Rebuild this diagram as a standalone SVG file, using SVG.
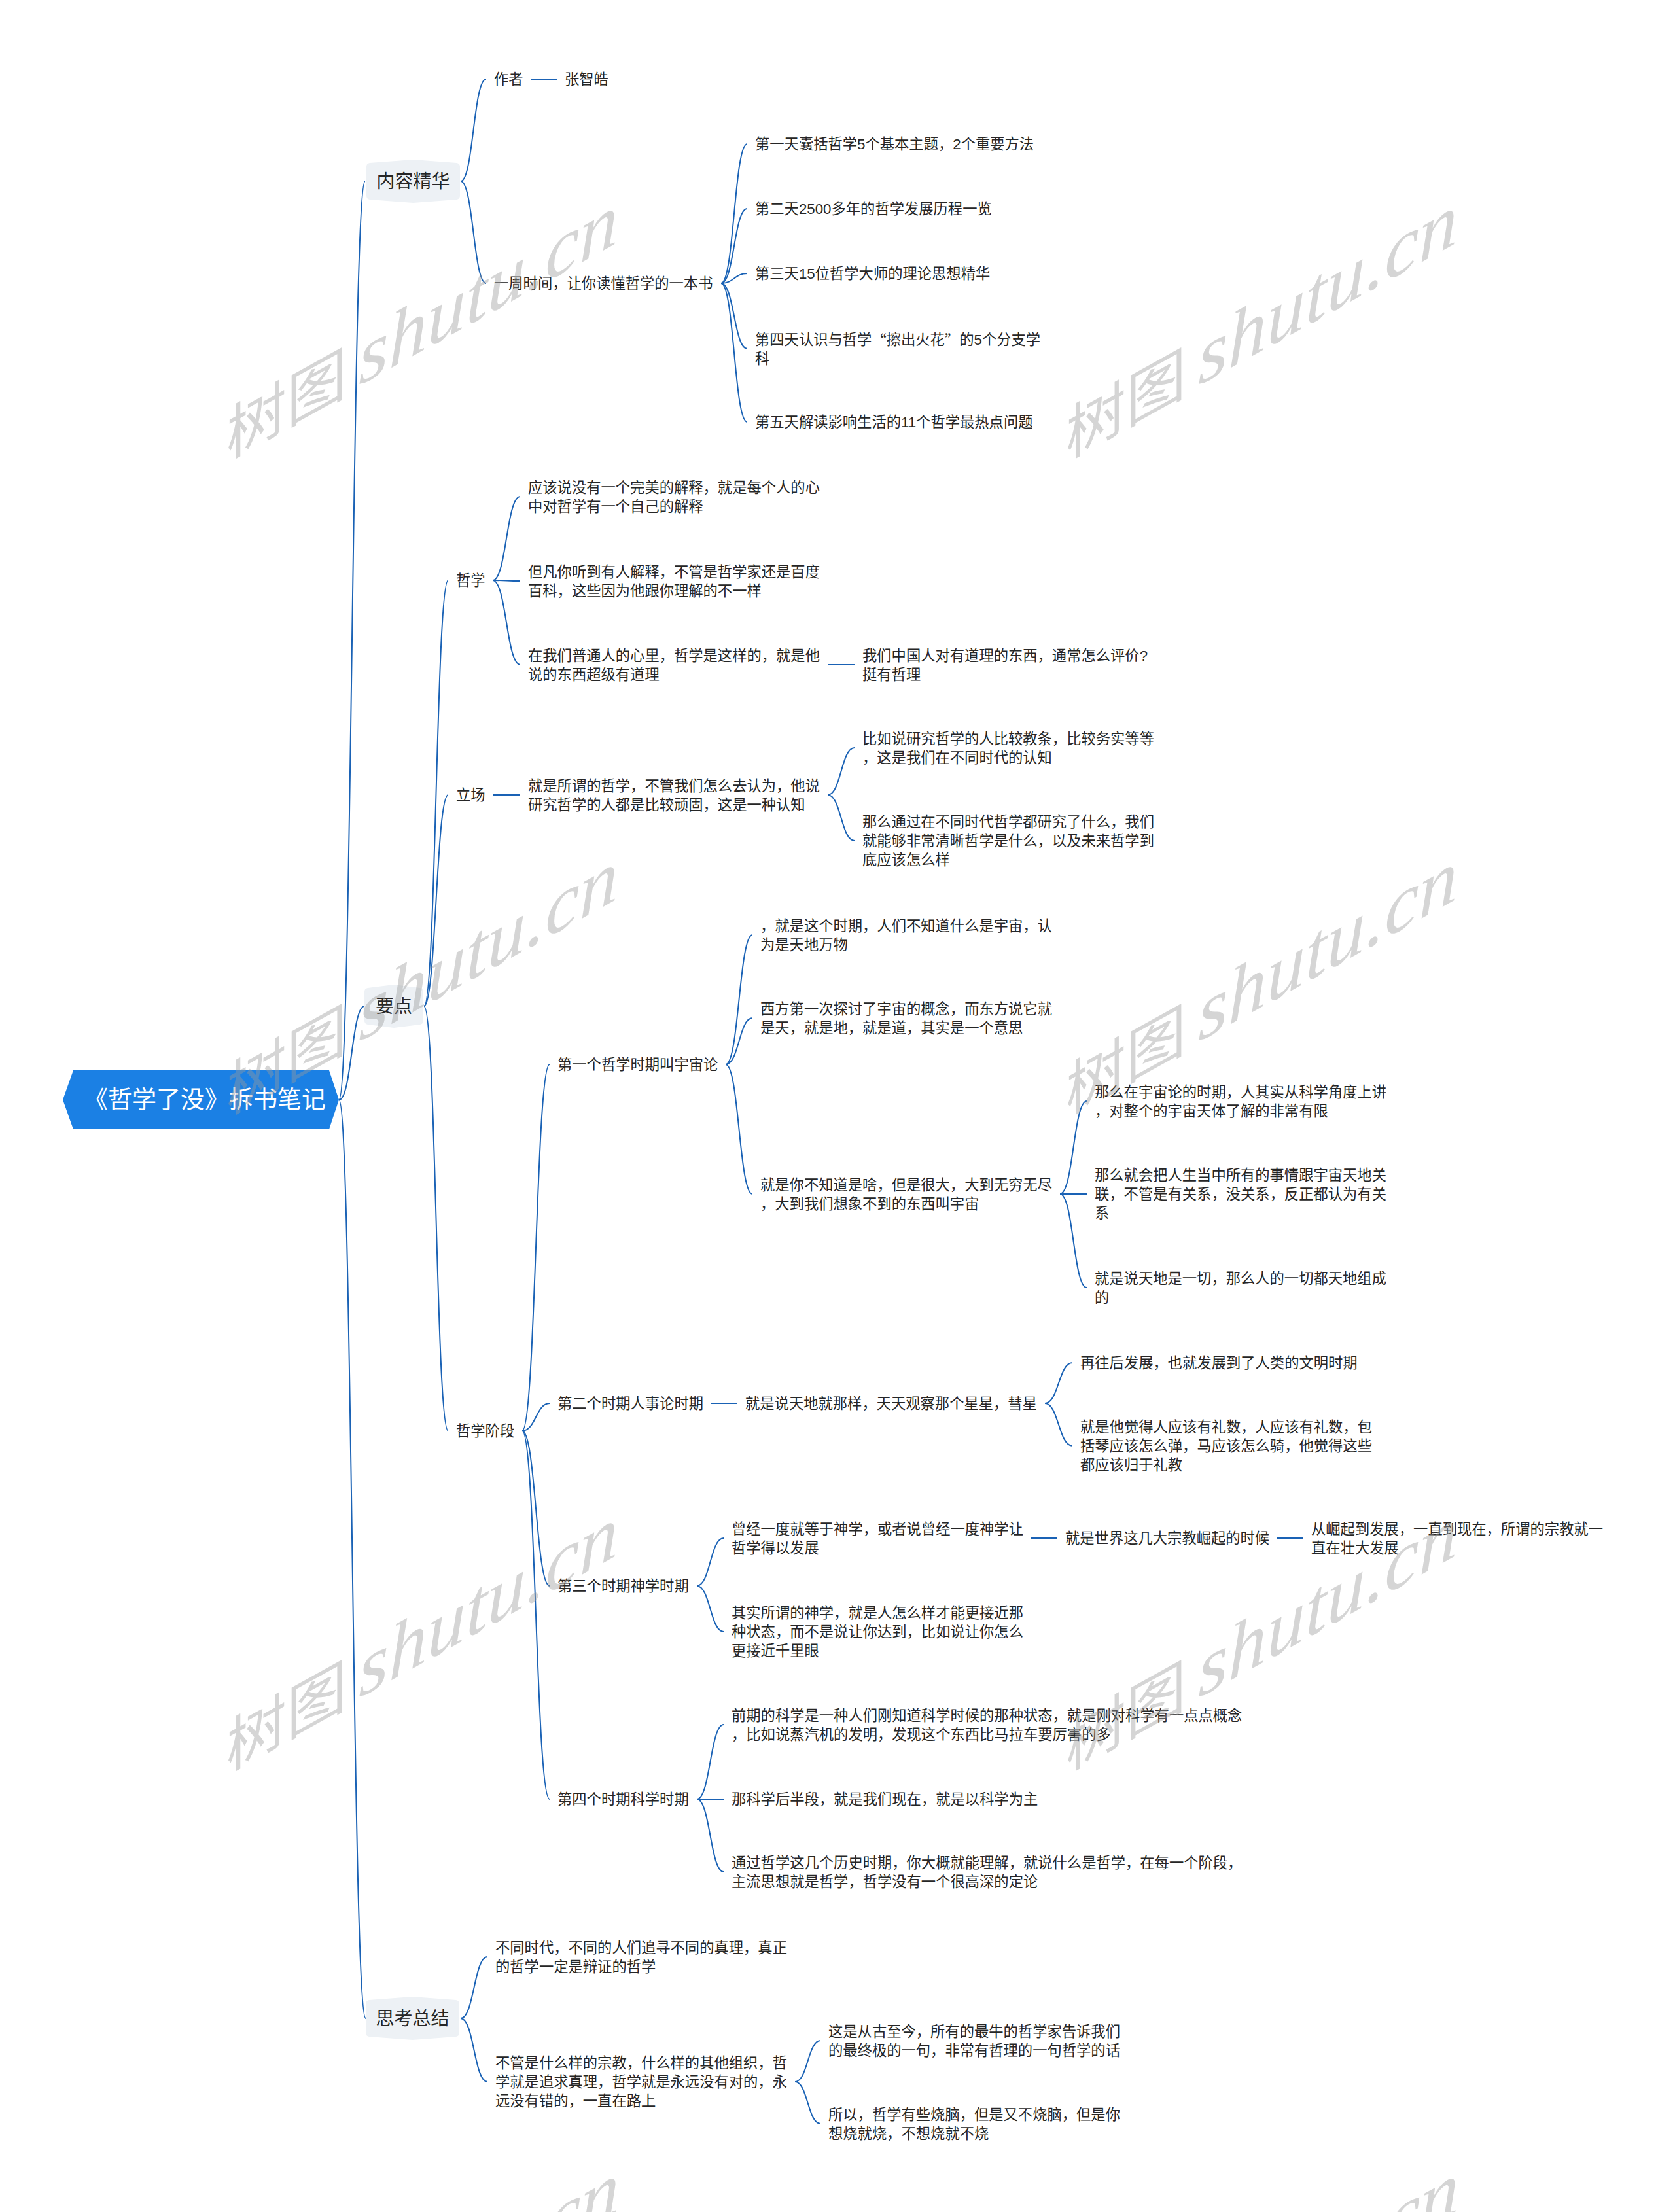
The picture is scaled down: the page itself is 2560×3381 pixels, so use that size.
<svg xmlns="http://www.w3.org/2000/svg" width="2560" height="3381" viewBox="0 0 2560 3381">
<style>
.t{font-family:"Liberation Sans","Noto Sans CJK SC",sans-serif;font-size:22.3px;fill:#262626;dominant-baseline:central}
.q{font-family:"Noto Sans CJK SC",sans-serif}
.l2{font-family:"Liberation Sans","Noto Sans CJK SC",sans-serif;font-size:28px;fill:#262626;dominant-baseline:central;text-anchor:middle}
.root{font-family:"Liberation Sans","Noto Sans CJK SC",sans-serif;font-size:37px;fill:#ffffff;dominant-baseline:central;text-anchor:middle}
.hex{fill:#edf1f5}
.c{fill:none;stroke:#1a62b5;stroke-width:2}
.wm{fill:#9a9a9a;fill-opacity:0.42}
.wm1{font-family:"Noto Sans CJK SC",sans-serif;font-size:92px}
.wm2{font-family:"Liberation Serif",serif;font-style:italic;font-size:118px}
</style>
<rect width="2560" height="3381" fill="#ffffff"/>
<g id="connectors">
<path class="c" d="M518 1681 C538 1681 538 277 558 277"/>
<path class="c" d="M518 1681 C537.5 1681 537.5 1538 557 1538"/>
<path class="c" d="M518 1681 C538.5 1681 538.5 3085 559 3085"/>
<path class="c" d="M704 277 C723.5 277 723.5 121 743 121"/>
<path class="c" d="M704 277 C723.5 277 723.5 433 743 433"/>
<path class="c" d="M811 121 H851"/>
<path class="c" d="M1102 433 C1122 433 1122 220 1142 220"/>
<path class="c" d="M1102 433 C1122 433 1122 319 1142 319"/>
<path class="c" d="M1102 433 C1122 433 1122 418 1142 418"/>
<path class="c" d="M1102 433 C1122 433 1122 533 1142 533"/>
<path class="c" d="M1102 433 C1122 433 1122 645 1142 645"/>
<path class="c" d="M648 1538 C666.5 1538 666.5 887 685 887"/>
<path class="c" d="M648 1538 C666.5 1538 666.5 1215 685 1215"/>
<path class="c" d="M648 1538 C666.5 1538 666.5 2187 685 2187"/>
<path class="c" d="M753 887 C774 887 774 759 795 759"/>
<path class="c" d="M753 887 C774 887 774 888 795 888"/>
<path class="c" d="M753 887 C774 887 774 1016 795 1016"/>
<path class="c" d="M1265 1016 H1306"/>
<path class="c" d="M753 1215 H795"/>
<path class="c" d="M1265 1215 C1285.5 1215 1285.5 1143 1306 1143"/>
<path class="c" d="M1265 1215 C1285.5 1215 1285.5 1285 1306 1285"/>
<path class="c" d="M798 2187 C819 2187 819 1627 840 1627"/>
<path class="c" d="M798 2187 C819 2187 819 2145 840 2145"/>
<path class="c" d="M798 2187 C819 2187 819 2424 840 2424"/>
<path class="c" d="M798 2187 C819 2187 819 2750 840 2750"/>
<path class="c" d="M1109 1627 C1129.5 1627 1129.5 1429 1150 1429"/>
<path class="c" d="M1109 1627 C1129.5 1627 1129.5 1556 1150 1556"/>
<path class="c" d="M1109 1627 C1129.5 1627 1129.5 1825 1150 1825"/>
<path class="c" d="M1620 1825 C1640.5 1825 1640.5 1683 1661 1683"/>
<path class="c" d="M1620 1825 H1661"/>
<path class="c" d="M1620 1825 C1640.5 1825 1640.5 1968 1661 1968"/>
<path class="c" d="M1087 2145 H1127"/>
<path class="c" d="M1597 2145 C1618 2145 1618 2083 1639 2083"/>
<path class="c" d="M1597 2145 C1618 2145 1618 2210 1639 2210"/>
<path class="c" d="M1065 2424 C1085.5 2424 1085.5 2351 1106 2351"/>
<path class="c" d="M1065 2424 C1085.5 2424 1085.5 2494 1106 2494"/>
<path class="c" d="M1576 2351 H1616"/>
<path class="c" d="M1952 2351 H1992"/>
<path class="c" d="M1065 2750 C1085.5 2750 1085.5 2636 1106 2636"/>
<path class="c" d="M1065 2750 H1106"/>
<path class="c" d="M1065 2750 C1085.5 2750 1085.5 2861 1106 2861"/>
<path class="c" d="M704 3085 C724.5 3085 724.5 2991 745 2991"/>
<path class="c" d="M704 3085 C724.5 3085 724.5 3182 745 3182"/>
<path class="c" d="M1215 3182 C1234.5 3182 1234.5 3119 1254 3119"/>
<path class="c" d="M1215 3182 C1234.5 3182 1234.5 3246 1254 3246"/>
</g>
<g id="n-root"><polygon points="96,1681 112,1636 503,1636 518,1681 503,1726 112,1726" fill="#1b80e4"/><text class="root" x="313" y="1681">《哲学了没》拆书笔记</text></g>
<g id="n-nrjh"><path class="hex" d="M560 255 Q560 250 565 249 L631.5 244 L698 249 Q703 250 703 255 L703 299 Q703 304 698 305 L631.5 310 L565 305 Q560 304 560 299 Z"/><text class="l2" x="631.5" y="277">内容精华</text></g>
<g id="n-yd"><path class="hex" d="M557 1516 Q557 1511 562 1510 L602 1505 L642 1510 Q647 1511 647 1516 L647 1560 Q647 1565 642 1566 L602 1571 L562 1566 Q557 1565 557 1560 Z"/><text class="l2" x="602" y="1538">要点</text></g>
<g id="n-sk"><path class="hex" d="M559 3063 Q559 3058 564 3057 L630.5 3052 L697 3057 Q702 3058 702 3063 L702 3107 Q702 3112 697 3113 L630.5 3118 L564 3113 Q559 3112 559 3107 Z"/><text class="l2" x="630.5" y="3085">思考总结</text></g>
<g id="n-zz"><text class="t" x="755" y="121">作者</text></g>
<g id="n-zzh"><text class="t" x="863" y="121">张智皓</text></g>
<g id="n-yz"><text class="t" x="755" y="433">一周时间，让你读懂哲学的一本书</text></g>
<g id="n-d1"><text class="t" x="1154" y="220">第一天囊括哲学5个基本主题，2个重要方法</text></g>
<g id="n-d2"><text class="t" x="1154" y="319">第二天2500多年的哲学发展历程一览</text></g>
<g id="n-d3"><text class="t" x="1154" y="418">第三天15位哲学大师的理论思想精华</text></g>
<g id="n-d4"><text class="t"><tspan x="1154" y="518.5">第四天认识与哲学<tspan class="q">“</tspan>擦出火花<tspan class="q">”</tspan>的5个分支学</tspan><tspan x="1154" y="547.5">科</tspan></text></g>
<g id="n-d5"><text class="t" x="1154" y="645">第五天解读影响生活的11个哲学最热点问题</text></g>
<g id="n-zx"><text class="t" x="697" y="887">哲学</text></g>
<g id="n-lc"><text class="t" x="697" y="1215">立场</text></g>
<g id="n-zxjd"><text class="t" x="697" y="2187">哲学阶段</text></g>
<g id="n-zx1"><text class="t"><tspan x="807" y="744.5">应该说没有一个完美的解释，就是每个人的心</tspan><tspan x="807" y="773.5">中对哲学有一个自己的解释</tspan></text></g>
<g id="n-zx2"><text class="t"><tspan x="807" y="873.5">但凡你听到有人解释，不管是哲学家还是百度</tspan><tspan x="807" y="902.5">百科，这些因为他跟你理解的不一样</tspan></text></g>
<g id="n-zx3"><text class="t"><tspan x="807" y="1001.5">在我们普通人的心里，哲学是这样的，就是他</tspan><tspan x="807" y="1030.5">说的东西超级有道理</tspan></text></g>
<g id="n-zx3a"><text class="t"><tspan x="1318" y="1001.5">我们中国人对有道理的东西，通常怎么评价?</tspan><tspan x="1318" y="1030.5">挺有哲理</tspan></text></g>
<g id="n-lc1"><text class="t"><tspan x="807" y="1200.5">就是所谓的哲学，不管我们怎么去认为，他说</tspan><tspan x="807" y="1229.5">研究哲学的人都是比较顽固，这是一种认知</tspan></text></g>
<g id="n-lc1a"><text class="t"><tspan x="1318" y="1128.5">比如说研究哲学的人比较教条，比较务实等等</tspan><tspan x="1318" y="1157.5">，这是我们在不同时代的认知</tspan></text></g>
<g id="n-lc1b"><text class="t"><tspan x="1318" y="1256">那么通过在不同时代哲学都研究了什么，我们</tspan><tspan x="1318" y="1285">就能够非常清晰哲学是什么，以及未来哲学到</tspan><tspan x="1318" y="1314">底应该怎么样</tspan></text></g>
<g id="n-p1"><text class="t" x="852" y="1627">第一个哲学时期叫宇宙论</text></g>
<g id="n-p1a"><text class="t"><tspan x="1162" y="1414.5">，就是这个时期，人们不知道什么是宇宙，认</tspan><tspan x="1162" y="1443.5">为是天地万物</tspan></text></g>
<g id="n-p1b"><text class="t"><tspan x="1162" y="1541.5">西方第一次探讨了宇宙的概念，而东方说它就</tspan><tspan x="1162" y="1570.5">是天，就是地，就是道，其实是一个意思</tspan></text></g>
<g id="n-p1c"><text class="t"><tspan x="1162" y="1810.5">就是你不知道是啥，但是很大，大到无穷无尽</tspan><tspan x="1162" y="1839.5">，大到我们想象不到的东西叫宇宙</tspan></text></g>
<g id="n-p1c1"><text class="t"><tspan x="1673" y="1668.5">那么在宇宙论的时期，人其实从科学角度上讲</tspan><tspan x="1673" y="1697.5">，对整个的宇宙天体了解的非常有限</tspan></text></g>
<g id="n-p1c2"><text class="t"><tspan x="1673" y="1796">那么就会把人生当中所有的事情跟宇宙天地关</tspan><tspan x="1673" y="1825">联，不管是有关系，没关系，反正都认为有关</tspan><tspan x="1673" y="1854">系</tspan></text></g>
<g id="n-p1c3"><text class="t"><tspan x="1673" y="1953.5">就是说天地是一切，那么人的一切都天地组成</tspan><tspan x="1673" y="1982.5">的</tspan></text></g>
<g id="n-p2"><text class="t" x="852" y="2145">第二个时期人事论时期</text></g>
<g id="n-p2a"><text class="t" x="1139" y="2145">就是说天地就那样，天天观察那个星星，彗星</text></g>
<g id="n-p2a1"><text class="t" x="1651" y="2083">再往后发展，也就发展到了人类的文明时期</text></g>
<g id="n-p2a2"><text class="t"><tspan x="1651" y="2181">就是他觉得人应该有礼数，人应该有礼数，包</tspan><tspan x="1651" y="2210">括琴应该怎么弹，马应该怎么骑，他觉得这些</tspan><tspan x="1651" y="2239">都应该归于礼教</tspan></text></g>
<g id="n-p3"><text class="t" x="852" y="2424">第三个时期神学时期</text></g>
<g id="n-p3a"><text class="t"><tspan x="1118" y="2336.5">曾经一度就等于神学，或者说曾经一度神学让</tspan><tspan x="1118" y="2365.5">哲学得以发展</tspan></text></g>
<g id="n-p3a1"><text class="t" x="1628" y="2351">就是世界这几大宗教崛起的时候</text></g>
<g id="n-p3a2"><text class="t"><tspan x="2004" y="2336.5">从崛起到发展，一直到现在，所谓的宗教就一</tspan><tspan x="2004" y="2365.5">直在壮大发展</tspan></text></g>
<g id="n-p3b"><text class="t"><tspan x="1118" y="2465">其实所谓的神学，就是人怎么样才能更接近那</tspan><tspan x="1118" y="2494">种状态，而不是说让你达到，比如说让你怎么</tspan><tspan x="1118" y="2523">更接近千里眼</tspan></text></g>
<g id="n-p4"><text class="t" x="852" y="2750">第四个时期科学时期</text></g>
<g id="n-p4a"><text class="t"><tspan x="1118" y="2621.5">前期的科学是一种人们刚知道科学时候的那种状态，就是刚对科学有一点点概念</tspan><tspan x="1118" y="2650.5">，比如说蒸汽机的发明，发现这个东西比马拉车要厉害的多</tspan></text></g>
<g id="n-p4b"><text class="t" x="1118" y="2750">那科学后半段，就是我们现在，就是以科学为主</text></g>
<g id="n-p4c"><text class="t"><tspan x="1118" y="2846.5">通过哲学这几个历史时期，你大概就能理解，就说什么是哲学，在每一个阶段，</tspan><tspan x="1118" y="2875.5">主流思想就是哲学，哲学没有一个很高深的定论</tspan></text></g>
<g id="n-s1"><text class="t"><tspan x="757" y="2976.5">不同时代，不同的人们追寻不同的真理，真正</tspan><tspan x="757" y="3005.5">的哲学一定是辩证的哲学</tspan></text></g>
<g id="n-s2"><text class="t"><tspan x="757" y="3153">不管是什么样的宗教，什么样的其他组织，哲</tspan><tspan x="757" y="3182">学就是追求真理，哲学就是永远没有对的，永</tspan><tspan x="757" y="3211">远没有错的，一直在路上</tspan></text></g>
<g id="n-s2a"><text class="t"><tspan x="1266" y="3104.5">这是从古至今，所有的最牛的哲学家告诉我们</tspan><tspan x="1266" y="3133.5">的最终极的一句，非常有哲理的一句哲学的话</tspan></text></g>
<g id="n-s2b"><text class="t"><tspan x="1266" y="3231.5">所以，哲学有些烧脑，但是又不烧脑，但是你</tspan><tspan x="1266" y="3260.5">想烧就烧，不想烧就不烧</tspan></text></g>
<g id="watermarks" class="wm">
<text transform="translate(346,702) skewY(-29)"><tspan class="wm1">树图</tspan><tspan class="wm2" dx="18">shutu.cn</tspan></text>
<text transform="translate(1629,702) skewY(-29)"><tspan class="wm1">树图</tspan><tspan class="wm2" dx="18">shutu.cn</tspan></text>
<text transform="translate(346,1705) skewY(-29)"><tspan class="wm1">树图</tspan><tspan class="wm2" dx="18">shutu.cn</tspan></text>
<text transform="translate(1629,1705) skewY(-29)"><tspan class="wm1">树图</tspan><tspan class="wm2" dx="18">shutu.cn</tspan></text>
<text transform="translate(346,2708) skewY(-29)"><tspan class="wm1">树图</tspan><tspan class="wm2" dx="18">shutu.cn</tspan></text>
<text transform="translate(1629,2708) skewY(-29)"><tspan class="wm1">树图</tspan><tspan class="wm2" dx="18">shutu.cn</tspan></text>
<text class="wm2" transform="translate(346,3711) skewY(-29)" x="204">shutu.cn</text>
<text class="wm2" transform="translate(1629,3711) skewY(-29)" x="204">shutu.cn</text>
</g>
</svg>
